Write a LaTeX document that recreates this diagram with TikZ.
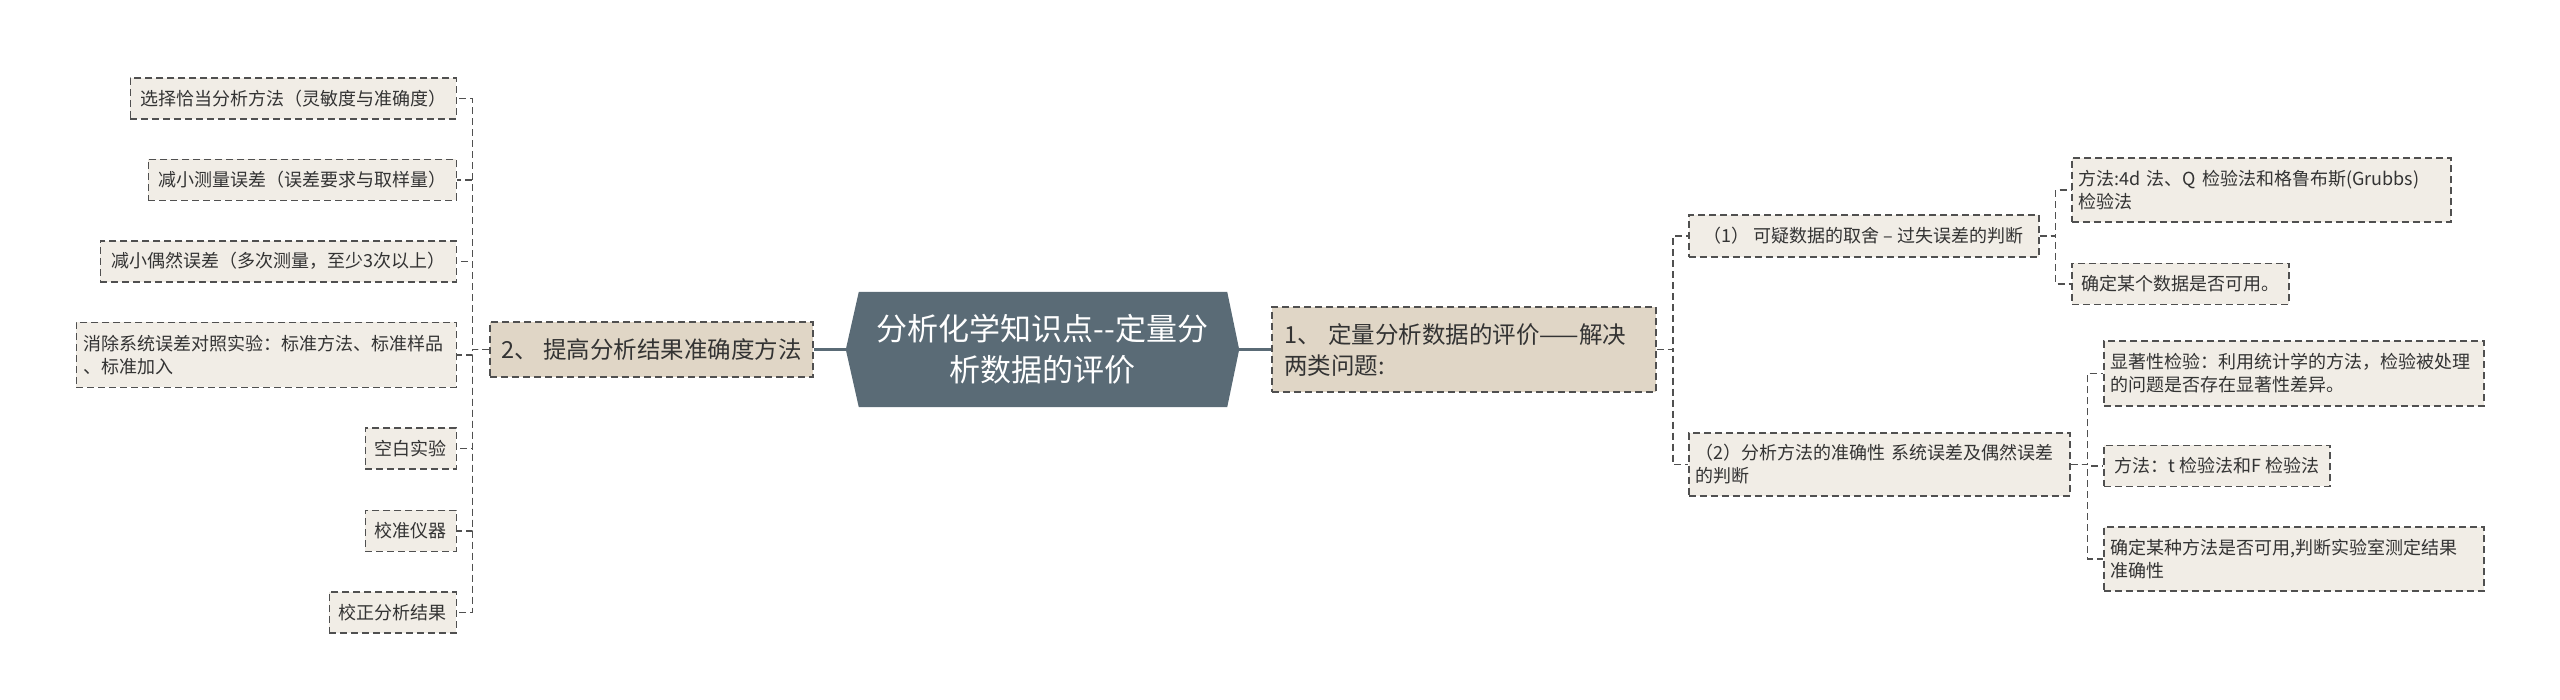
\documentclass[tikz,border=0pt]{standalone}
\usepackage{fontspec}
\setmainfont{Noto Sans CJK SC}
\usetikzlibrary{positioning,backgrounds}
\definecolor{slate}{HTML}{5A6B76}
\definecolor{topfill}{HTML}{E0D6C6}
\definecolor{leaffill}{HTML}{F1EDE6}
\definecolor{edgegray}{HTML}{505050}
\definecolor{ink}{HTML}{333333}
\tikzset{
    every node/.style={text=ink},
    root node/.style={shape=rectangle, text=white, align=center,
    	font=\fontsize{31}{41}\selectfont,
    	minimum width=393pt, minimum height=115pt},
    topic node/.style={shape=rectangle, draw=edgegray, fill=topfill,
    	line width=1.5pt, dash pattern=on 7pt off 4pt,
    	font=\fontsize{23.5}{31}\selectfont, inner xsep=12pt},
    leaf node/.style={shape=rectangle, draw=edgegray, fill=leaffill,
    	line width=1.5pt, dash pattern=on 7pt off 4pt,
    	font=\fontsize{18}{23}\selectfont, inner xsep=7pt, minimum height=41pt},
    branch/.style={draw=edgegray, line width=1.5pt, dash pattern=on 7pt off 4pt},
    trunk/.style={draw=slate, line width=3pt}
}

\begin{document}
\begin{tikzpicture}[x=1pt,y=-1pt]
    \useasboundingbox (0,0) rectangle (2560,699);

    \node[root node] (root) at (1042.5,349.5) {分析化学知识点-{}-定量分\\析数据的评价};
    \begin{scope}[on background layer]
    	\fill[slate] (root.west) -- ([xshift=13pt]root.north west) -- ([xshift=-12pt]root.north east)
    		-- (root.east) -- ([xshift=-12pt]root.south east) -- ([xshift=13pt]root.south west) -- cycle;
    \end{scope}

    \node[topic node, inner xsep=9pt, minimum width=323pt, minimum height=55pt] (L) at (651.5,349.5) {2、 提高分析结果准确度方法};
    \node[topic node, text width=360pt, align=left, minimum height=85pt] (R) at (1464,349.5) {1、 定量分析数据的评价——解决\\两类问题:};

    % left branch
    \node[leaf node, minimum width=326pt, anchor=north east] (a1) at (457,77) {选择恰当分析方法（灵敏度与准确度）};
    \node[leaf node, minimum width=308pt, below=39pt of a1.south east, anchor=north east] (a2) {减小测量误差（误差要求与取样量）};
    \node[leaf node, minimum width=356pt, below=39pt of a2.south east, anchor=north east] (a3) {减小偶然误差（多次测量，至少3次以上）};
    \node[leaf node, text width=366pt, align=left, minimum height=65pt, below=39pt of a3.south east, anchor=north east] (a4) {消除系统误差对照实验：标准方法、标准样品\\、标准加入};
    \node[leaf node, minimum width=91pt, below=39pt of a4.south east, anchor=north east] (a5) {空白实验};
    \node[leaf node, minimum width=91pt, below=40pt of a5.south east, anchor=north east] (a6) {校准仪器};
    \node[leaf node, minimum width=127pt, below=39pt of a6.south east, anchor=north east] (a7) {校正分析结果};

    % right branch
    \node[leaf node, minimum width=350pt, minimum height=42pt, anchor=north west] (b1) at (1688,214) {（1） 可疑数据的取舍 – 过失误差的判断};
    \node[leaf node, text width=367pt, align=left, minimum height=63pt, anchor=north west] (b2) at (1688,432) {（2）分析方法的准确性 系统误差及偶然误差\\的判断};

    \node[leaf node, text width=365pt, align=left, minimum height=64pt, anchor=north west] (c1) at (2071,157) {方法:4d 法、Q 检验法和格鲁布斯(Grubbs)\\检验法};
    \node[leaf node, minimum width=217pt, below=40pt of c1.south west, anchor=north west] (c2) {确定某个数据是否可用。};

    \node[leaf node, text width=366pt, align=left, minimum height=65pt, anchor=north west] (d1) at (2103,340) {显著性检验：利用统计学的方法，检验被处理\\的问题是否存在显著性差异。};
    \node[leaf node, minimum width=226pt, below=38pt of d1.south west, anchor=north west] (d2) {方法：t 检验法和F 检验法};
    \node[leaf node, text width=366pt, align=left, minimum height=64pt, below=39pt of d2.south west, anchor=north west] (d3) {确定某种方法是否可用,判断实验室测定结果\\准确性};

    % connectors
    \draw[trunk] (root.west) -- (L.east);
    \draw[trunk] (root.east) -- (R.west);
    \foreach \n in {a1,a2,a3,a4,a5,a6,a7}
    	\draw[branch] (L.west) -- ++(-17pt,0) |- (\n.east);
    \foreach \n in {b1,b2}
    	\draw[branch] (R.east) -- ++(16pt,0) |- (\n.west);
    \foreach \n in {c1,c2}
    	\draw[branch] (b1.east) -- ++(16pt,0) |- (\n.west);
    \foreach \n in {d1,d2,d3}
    	\draw[branch] (b2.east) -- ++(17pt,0) |- (\n.west);
\end{tikzpicture}
\end{document}
